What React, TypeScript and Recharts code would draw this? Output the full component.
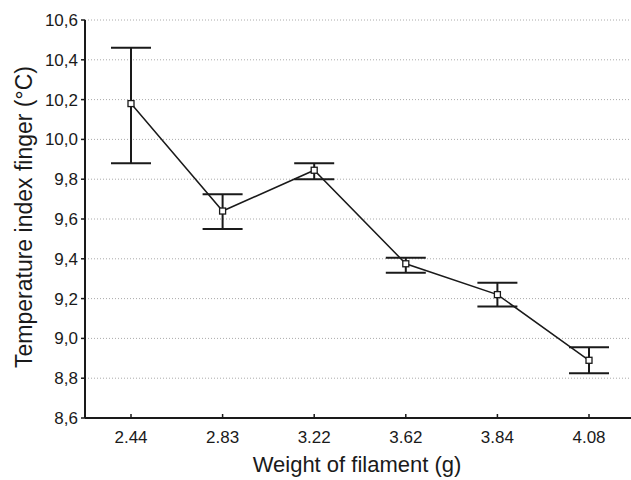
import { LineChart, Line, XAxis, YAxis, CartesianGrid, ErrorBar, Label } from "recharts";

const weights = ["2.44", "2.83", "3.22", "3.62", "3.84", "4.08"];
const meanTemp = [10.18, 9.64, 9.845, 9.375, 9.22, 8.89];
const lowerTemp = [9.88, 9.55, 9.8, 9.33, 9.16, 8.825];
const upperTemp = [10.46, 9.725, 9.88, 9.405, 9.28, 8.955];
const yTicks = [8.6, 8.8, 9.0, 9.2, 9.4, 9.6, 9.8, 10.0, 10.2, 10.4, 10.6];

const FONT = '"Liberation Sans", Arial, sans-serif';
const INK = "#1a1a1a";
const PAD = { left: 46, right: 46 };

const data = weights.map((w, i) => ({
  weight: w,
  temp: meanTemp[i],
  err: [meanTemp[i] - lowerTemp[i], upperTemp[i] - meanTemp[i]],
}));

const BottomTick = (props: any) => {
  const { x, y, payload } = props;
  return (
    <g>
      <line x1={x} x2={x} y1={y - 4} y2={y} stroke={INK} strokeWidth={1.5} />
      <text x={x} y={y + 25} textAnchor="middle" fontSize={17} fill={INK} fontFamily={FONT}>
        {payload.value}
      </text>
    </g>
  );
};

const TopTick = (props: any) => {
  const { x, y } = props;
  return <line x1={x} x2={x} y1={y} y2={y + 4} stroke={INK} strokeWidth={1.5} />;
};

export default function App() {
  return (
    <div style={{ position: "fixed", left: 0, top: 0, width: 631, height: 480, overflow: "hidden", background: "#fff" }}>
      <LineChart width={635} height={480} data={data} margin={{ top: 20, right: 0, bottom: 0, left: 0 }}>
        <CartesianGrid vertical={false} stroke="#aaa" strokeDasharray="1 2" />
        <XAxis
          dataKey="weight"
          height={62}
          padding={PAD}
          axisLine={{ stroke: INK, strokeWidth: 2 }}
          tickLine={false}
          tickSize={0}
          tickMargin={0}
          tick={<BottomTick />}
          interval={0}
        >
          <Label
            content={() => (
              <text x={357} y={472} textAnchor="middle" fontSize={22} fill={INK} fontFamily={FONT}>
                Weight of filament (g)
              </text>
            )}
          />
        </XAxis>
        <XAxis
          xAxisId="top"
          dataKey="weight"
          orientation="top"
          height={0}
          padding={PAD}
          axisLine={{ stroke: INK, strokeWidth: 2 }}
          tickLine={false}
          tickSize={0}
          tickMargin={0}
          tick={<TopTick />}
          interval={0}
        />
        <YAxis
          width={85}
          type="number"
          domain={[8.6, 10.6]}
          ticks={yTicks}
          interval={0}
          tickFormatter={(v: number) => v.toFixed(1).replace(".", ",")}
          axisLine={{ stroke: INK, strokeWidth: 2 }}
          tickLine={{ stroke: INK, strokeWidth: 1.5 }}
          tickSize={4}
          tickMargin={3}
          tick={{ fontSize: 17, fill: INK, fontFamily: FONT }}
        >
          <Label
            content={() => (
              <text
                x={24}
                y={217}
                transform="rotate(-90 24 217)"
                textAnchor="middle"
                dominantBaseline="central"
                fontSize={23}
                fill={INK}
                fontFamily={FONT}
              >
                Temperature index finger (°C)
              </text>
            )}
          />
        </YAxis>
        <Line
          dataKey="temp"
          stroke={INK}
          strokeWidth={1.5}
          isAnimationActive={false}
          dot={(p: any) => (
            <rect key={p.index} x={p.cx - 3} y={p.cy - 3} width={6} height={6} fill="#fff" stroke={INK} strokeWidth={1.3} />
          )}
          activeDot={false}
        >
          <ErrorBar dataKey="err" direction="y" width={20} stroke={INK} strokeWidth={2} isAnimationActive={false} />
        </Line>
      </LineChart>
    </div>
  );
}
